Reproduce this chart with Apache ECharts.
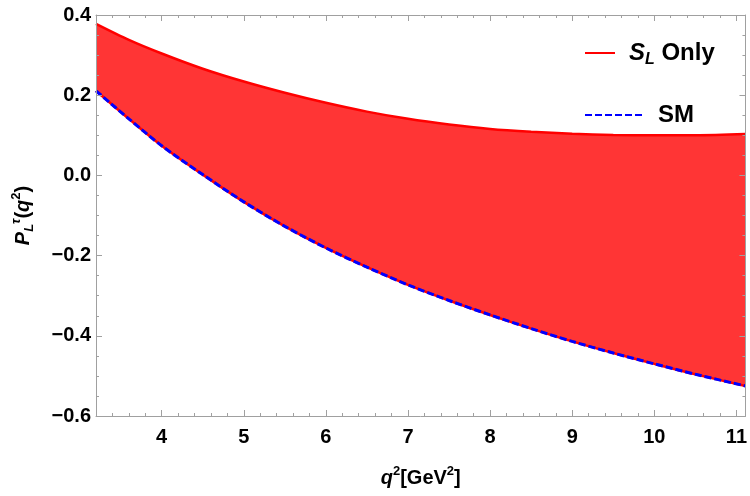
<!DOCTYPE html>
<html>
<head>
<meta charset="utf-8">
<script src="https://cdn.jsdelivr.net/npm/echarts@6/dist/echarts.min.js"></script>
<style>
  html, body { margin: 0; padding: 0; background: #fff; }
  #chart { width: 750px; height: 496px; }
</style>
</head>
<body>
<div id="chart"></div>
<script>
// q^2 grid (GeV^2) and the two edges of the band
const q2 = [3.2, 3.6, 4.0, 4.5, 5.0, 5.5, 6.0, 6.5, 7.0, 7.5, 8.0, 8.5, 9.0, 9.5, 10.0, 10.5, 11.11]
const slOnlyUpper = [0.378, 0.338, 0.304, 0.266, 0.234, 0.206, 0.181, 0.159, 0.141, 0.127, 0.116, 0.109, 0.104, 0.101, 0.100, 0.100, 0.103]
const smValues = [0.211, 0.141, 0.074, 0.002, -0.066, -0.127, -0.181, -0.229, -0.273, -0.312, -0.348, -0.382, -0.414, -0.443, -0.470, -0.496, -0.525]

const xMajorTicks = [4, 5, 6, 7, 8, 9, 10, 11]
const xMinorTicks = [3.4, 3.6, 3.8, 4.2, 4.4, 4.6, 4.8, 5.2, 5.4, 5.6, 5.8, 6.2, 6.4, 6.6, 6.8,
  7.2, 7.4, 7.6, 7.8, 8.2, 8.4, 8.6, 8.8, 9.2, 9.4, 9.6, 9.8, 10.2, 10.4, 10.6, 10.8]

const FONT = 'Liberation Sans'
const frameColor = '#a0a0a0'
const smooth = 0.3

const pairs = (ys) => q2.map((x, i) => [x, ys[i]])

const chart = echarts.init(document.getElementById('chart'))

// axes sit above the fills so the inward ticks stay visible
const xBase = {
  type: 'value',
  min: 3.2,
  max: 11.11,
  z: 10,
  splitLine: { show: false },
  axisLine: { onZero: false, lineStyle: { color: frameColor, width: 1 } },
  axisLabel: { show: false }
}

const labelRich = {
  n: { fontFamily: FONT, fontWeight: 'bold', fontSize: 20, color: '#000' },
  i: { fontFamily: FONT, fontWeight: 'bold', fontStyle: 'italic', fontSize: 20, color: '#000' },
  sup: { fontFamily: FONT, fontWeight: 'bold', fontSize: 13, color: '#000', verticalAlign: 'top' },
  supi: { fontFamily: FONT, fontWeight: 'bold', fontStyle: 'italic', fontSize: 13, color: '#000', verticalAlign: 'top' },
  sub: { fontFamily: FONT, fontWeight: 'bold', fontStyle: 'italic', fontSize: 13, color: '#000', verticalAlign: 'bottom' }
}

chart.setOption({
  animation: false,
  grid: { left: 96, right: 4, top: 15, bottom: 80 },
  legend: [
    {
      data: ['SL Only'],
      left: 579,
      top: 33,
      itemWidth: 30,
      itemHeight: 14,
      itemStyle: { opacity: 0 },
      formatter: () => '{i|S}{sub|L}{n| Only}',
      textStyle: {
        padding: [0, 0, 0, 9],
        lineHeight: 30,
        rich: {
          n: { fontFamily: FONT, fontWeight: 'bold', fontSize: 24, color: '#000' },
          i: { fontFamily: FONT, fontWeight: 'bold', fontStyle: 'italic', fontSize: 24, color: '#000' },
          sub: { fontFamily: FONT, fontWeight: 'bold', fontStyle: 'italic', fontSize: 16, color: '#000', verticalAlign: 'bottom', lineHeight: 30 }
        }
      }
    },
    {
      data: ['SM'],
      left: 579,
      top: 98,
      itemWidth: 57,
      itemHeight: 14,
      itemStyle: { opacity: 0 },
      textStyle: { fontFamily: FONT, fontWeight: 'bold', fontSize: 24, color: '#000', padding: [0, 0, 0, 11] }
    }
  ],
  xAxis: [
    Object.assign({}, xBase, {
      position: 'bottom',
      axisTick: { inside: true, length: 6, customValues: xMajorTicks, lineStyle: { color: frameColor } },
      axisLabel: {
        show: true,
        customValues: xMajorTicks,
        margin: 11,
        fontFamily: FONT,
        fontWeight: 'bold',
        fontSize: 20,
        color: '#000'
      },
      name: '{i|q}{sup|2}{n|[GeV}{sup|2}{n|]}',
      nameLocation: 'middle',
      nameGap: 49,
      nameTextStyle: { rich: labelRich, lineHeight: 26 }
    }),
    Object.assign({}, xBase, {
      position: 'top',
      axisTick: { inside: true, length: 6, customValues: xMajorTicks, lineStyle: { color: frameColor } }
    }),
    Object.assign({}, xBase, {
      position: 'top',
      axisLine: { show: false, onZero: false },
      axisTick: { inside: true, length: 3, customValues: xMinorTicks, lineStyle: { color: frameColor } }
    }),
    Object.assign({}, xBase, {
      position: 'bottom',
      axisLine: { show: false, onZero: false },
      axisTick: { inside: true, length: 3, customValues: xMinorTicks, lineStyle: { color: frameColor } }
    })
  ],
  yAxis: [
    {
      type: 'value',
      position: 'left',
      min: -0.6,
      max: 0.4,
      interval: 0.2,
      z: 10,
      splitLine: { show: false },
      axisLine: { show: true, onZero: false, lineStyle: { color: frameColor, width: 1 } },
      axisTick: { inside: true, length: 6, lineStyle: { color: frameColor } },
      minorTick: { show: true, splitNumber: 4, length: 3, lineStyle: { color: frameColor } },
      axisLabel: {
        margin: 5,
        fontFamily: FONT,
        fontWeight: 'bold',
        fontSize: 20,
        color: '#000',
        formatter: (v) => v.toFixed(1).replace('-', '\u2212')
      },
      name: '{i|P}{sub|L}{supi|τ}{n|(}{i|q}{sup|2}{n|)}',
      nameLocation: 'middle',
      nameRotate: 90,
      nameGap: 60,
      nameTextStyle: { rich: labelRich, lineHeight: 26 }
    },
    {
      type: 'value',
      position: 'right',
      min: -0.6,
      max: 0.4,
      interval: 0.2,
      z: 10,
      splitLine: { show: false },
      axisLine: { show: true, onZero: false, lineStyle: { color: frameColor, width: 1 } },
      axisTick: { inside: true, length: 6, lineStyle: { color: frameColor } },
      minorTick: { show: true, splitNumber: 4, length: 3, lineStyle: { color: frameColor } },
      axisLabel: { show: false }
    }
  ],
  series: [
    {
      // red fill from the upper edge down to the bottom of the frame
      name: 'bandTop',
      type: 'line',
      data: pairs(slOnlyUpper),
      symbol: 'none',
      smooth: smooth,
      lineStyle: { width: 0, opacity: 0 },
      areaStyle: { color: '#ff3535', opacity: 1, origin: 'start' },
      silent: true
    },
    {
      // white fill under the SM curve cuts the band's lower edge
      name: 'bandBottom',
      type: 'line',
      data: pairs(smValues),
      symbol: 'none',
      smooth: smooth,
      lineStyle: { width: 0, opacity: 0 },
      areaStyle: { color: '#ffffff', opacity: 1, origin: 'start' },
      silent: true
    },
    {
      name: 'SL Only',
      type: 'line',
      data: pairs(slOnlyUpper),
      symbol: 'none',
      smooth: smooth,
      color: '#ff0000',
      lineStyle: { color: '#ff0000', width: 2.5 }
    },
    {
      name: 'lowerEdge',
      type: 'line',
      data: pairs(smValues),
      symbol: 'none',
      smooth: smooth,
      lineStyle: { color: '#ff0000', width: 2.5 }
    },
    {
      name: 'SM',
      type: 'line',
      data: pairs(smValues),
      symbol: 'none',
      smooth: smooth,
      color: '#0000ff',
      lineStyle: { color: '#0000ff', width: 3, type: [7, 3] }
    }
  ]
})
</script>
</body>
</html>
